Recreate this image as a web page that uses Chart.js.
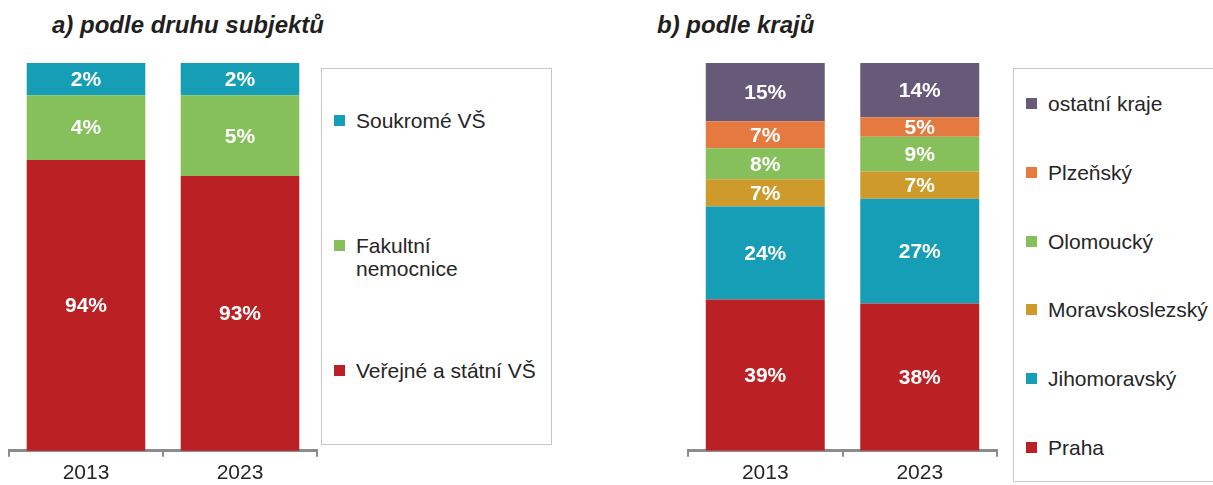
<!DOCTYPE html>
<html lang="cs">
<head>
<meta charset="utf-8">
<title>Struktura podle druhu subjektů a podle krajů</title>
<script src="https://cdn.jsdelivr.net/npm/chart.js@4/dist/chart.umd.min.js"></script>
<style>
  html, body { margin: 0; padding: 0; background: #fff; }
  body { width: 1213px; height: 485px; position: relative; overflow: hidden;
         font-family: "Liberation Sans", Arial, sans-serif; color: #262626; }
  canvas { position: absolute; top: 0; }
  .title { position: absolute; top: 13px; font-size: 24px; line-height: 24px;
           font-weight: bold; font-style: italic; color: #231f20; white-space: nowrap; }
  .legend { position: absolute; border: 1px solid #c6c6c6; box-sizing: border-box; }
  .legend .item { position: absolute; left: 12px; font-size: 21px; line-height: 23px; padding-left: 22px; }
  .legend .box { position: absolute; left: 0; top: 6px; width: 11px; height: 11px; }
</style>
</head>
<body>
<div class="title" style="left:52px">a) podle druhu subjektů</div>
<div class="title" style="left:657px">b) podle krajů</div>
<canvas id="typeChart" width="320" height="490" style="left:0"></canvas>
<canvas id="regionChart" width="360" height="490" style="left:640px"></canvas>
<div class="legend" id="typeLegend" style="left:321px; top:68px; width:231px; height:377px"></div>
<div class="legend" id="regionLegend" style="left:1013px; top:68px; width:260px; height:414px"></div>
<script>
const years = ['2013', '2023'];

// a) podle druhu subjektů (%)
const verejneVS = [94, 93];
const fakultniNemocnice = [4, 5];
const soukromeVS = [2, 2];

// b) podle krajů (%)
const praha = [39, 38];
const jihomoravsky = [24, 27];
const moravskoslezsky = [7, 7];
const olomoucky = [8, 9];
const plzensky = [7, 5];
const ostatniKraje = [15, 14];

const RED = '#bb2025';
const TEAL = '#179eb7';
const GREEN = '#85c05b';
const GOLD = '#cd9a2b';
const ORANGE = '#e57a40';
const PURPLE = '#675978';

const FONT = '"Liberation Sans", Arial, sans-serif';

// white percentage in the middle of the visible part of each segment
const valueLabels = {
  id: 'valueLabels',
  afterDatasetsDraw(chart) {
    const { ctx, chartArea } = chart;
    ctx.save();
    ctx.font = 'bold 21px ' + FONT;
    ctx.fillStyle = '#fff';
    ctx.textAlign = 'center';
    ctx.textBaseline = 'middle';
    chart.data.datasets.forEach((ds, i) => {
      chart.getDatasetMeta(i).data.forEach((bar, j) => {
        const { x, y, base } = bar.getProps(['x', 'y', 'base'], true);
        const top = Math.max(Math.min(y, base), chartArea.top);
        const bottom = Math.min(Math.max(y, base), chartArea.bottom);
        ctx.fillText(ds.data[j] + '%', x, (top + bottom) / 2 + 1);
      });
    });
    ctx.restore();
  }
};

function stackedOptions(yMin, padLeft) {
  return {
    responsive: false,
    animation: false,
    devicePixelRatio: 1,
    layout: { padding: { left: padLeft, right: 3, top: 63, bottom: 0 } },
    plugins: { legend: { display: false }, tooltip: { enabled: false } },
    datasets: { bar: { categoryPercentage: 1, barPercentage: 0.77, clip: 0 } },
    scales: {
      x: {
        stacked: true,
        grid: { offset: true, drawOnChartArea: false, color: '#8c8c8c', lineWidth: 2, tickLength: 6 },
        border: { color: '#8c8c8c', width: 3 },
        ticks: { color: '#262626', font: { size: 21, family: FONT }, padding: 4 }
      },
      y: { stacked: true, display: false, min: yMin, max: 100 }
    }
  };
}

const typeSeries = [
  { label: 'Veřejné a státní VŠ', data: verejneVS, backgroundColor: RED },
  { label: 'Fakultní nemocnice', data: fakultniNemocnice, backgroundColor: GREEN },
  { label: 'Soukromé VŠ', data: soukromeVS, backgroundColor: TEAL }
];

const regionSeries = [
  { label: 'Praha', data: praha, backgroundColor: RED },
  { label: 'Jihomoravský', data: jihomoravsky, backgroundColor: TEAL },
  { label: 'Moravskoslezský', data: moravskoslezsky, backgroundColor: GOLD },
  { label: 'Olomoucký', data: olomoucky, backgroundColor: GREEN },
  { label: 'Plzeňský', data: plzensky, backgroundColor: ORANGE },
  { label: 'ostatní kraje', data: ostatniKraje, backgroundColor: PURPLE }
];

// the left axis is cut off at 76 % so the small shares stay readable
const typeChart = new Chart(document.getElementById('typeChart'), {
  type: 'bar',
  data: { labels: years, datasets: typeSeries },
  options: stackedOptions(76, 9),
  plugins: [valueLabels]
});

const regionChart = new Chart(document.getElementById('regionChart'), {
  type: 'bar',
  data: { labels: years, datasets: regionSeries },
  options: stackedOptions(0, 48),
  plugins: [valueLabels]
});

// boxed legends, top series first
function buildLegend(chart, el, tops, lines) {
  const items = chart.data.datasets.slice().reverse();
  items.forEach((ds, k) => {
    const item = document.createElement('div');
    item.className = 'item';
    item.style.top = tops[k] + 'px';
    const box = document.createElement('span');
    box.className = 'box';
    box.style.background = ds.backgroundColor;
    item.appendChild(box);
    const text = (lines && lines[ds.label]) || [ds.label];
    text.forEach((t, n) => {
      if (n) item.appendChild(document.createElement('br'));
      item.appendChild(document.createTextNode(t));
    });
    el.appendChild(item);
  });
}

buildLegend(typeChart, document.getElementById('typeLegend'), [40, 165, 290],
  { 'Fakultní nemocnice': ['Fakultní', 'nemocnice'] });
buildLegend(regionChart, document.getElementById('regionLegend'), [23, 92, 161, 229, 298, 367]);
</script>
</body>
</html>
